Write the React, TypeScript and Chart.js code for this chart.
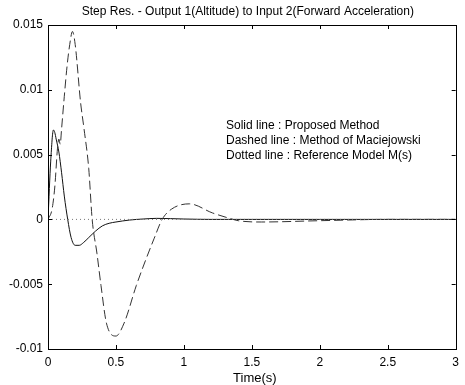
import React, { useEffect, useRef } from "react";
import { Chart, registerables } from "chart.js";
Chart.register(...registerables);

const titleText = "Step Res. - Output 1(Altitude) to Input 2(Forward Acceleration)";
const xTitle = "Time(s)";

const solidT = [0, 0.02, 0.04, 0.05, 0.06, 0.08, 0.1, 0.12, 0.145, 0.17, 0.2, 0.23, 0.26, 0.3, 0.35, 0.4, 0.45, 0.5, 0.6, 0.7, 0.8, 0.9, 1.0, 1.2, 1.5, 2.0, 2.5, 3.0];
const solidY = [0, 0.0045, 0.0069, 0.0067, 0.0062, 0.0052, 0.0036, 0.0018, 0, -0.0014, -0.002, -0.002, -0.0018, -0.0014, -0.0009, -0.0005, -0.0003, -0.0002, -0.00005, 0.00003, 0.00008, 0.00006, 0.00003, 0, 0, 0, 0, 0];

const dashedT = [0, 0.03, 0.05, 0.07, 0.08, 0.09, 0.1, 0.12, 0.14, 0.16, 0.18, 0.2, 0.24, 0.265, 0.3, 0.325, 0.36, 0.39, 0.43, 0.5, 0.56, 0.65, 0.72, 0.78, 0.84, 0.91, 1.04, 1.21, 1.33, 1.4, 1.57, 2.0, 2.5, 3.0];
const dashedY = [0, 0.0008, 0.0025, 0.0055, 0.0062, 0.0058, 0.007, 0.0095, 0.0118, 0.0135, 0.0145, 0.0135, 0.009, 0.007, 0.0039, 0, -0.0026, -0.0051, -0.008, -0.009, -0.008, -0.0051, -0.0031, -0.0015, 0, 0.0008, 0.0012, 0.0005, 0.0001, -0.0001, -0.0002, -0.0001, 0, 0];

const dottedT = [0, 3];
const dottedY = [0, 0];

const xTickValues = [0, 0.5, 1, 1.5, 2, 2.5, 3];
const xTickLabels = ["0", "0.5", "1", "1.5", "2", "2.5", "3"];
const yTickValues = [-0.01, -0.005, 0, 0.005, 0.01, 0.015];
const yTickLabels = ["-0.01", "-0.005", "0", "0.005", "0.01", "0.015"];

const noteLines = ["Solid line : Proposed Method", "Dashed line : Method of Maciejowski", "Dotted line : Reference Model M(s)"];
const noteX = 1.31;
const noteY = 0.0072;

const FONT = "'Liberation Sans', Arial, sans-serif";

const pts = (t: number[], y: number[]) => t.map((v, i) => ({ x: v, y: y[i] }));

const framePlugin = {
  id: "frame",
  afterDatasetsDraw(chart: any) {
    const { ctx, chartArea: a, scales } = chart;
    const xs = scales.x, ys = scales.y;
    ctx.save();
    ctx.strokeStyle = "#000";
    ctx.lineWidth = 1;
    ctx.setLineDash([]);
    ctx.strokeRect(Math.round(a.left) + 0.5, Math.round(a.top) + 0.5, Math.round(a.right - a.left), Math.round(a.bottom - a.top));
    const L = 4;
    ctx.beginPath();
    xTickValues.forEach((v) => {
      const px = Math.round(xs.getPixelForValue(v)) + 0.5;
      ctx.moveTo(px, a.bottom); ctx.lineTo(px, a.bottom - L);
      ctx.moveTo(px, a.top); ctx.lineTo(px, a.top + L);
    });
    yTickValues.forEach((v) => {
      const py = Math.round(ys.getPixelForValue(v)) + 0.5;
      ctx.moveTo(a.left, py); ctx.lineTo(a.left + L, py);
      ctx.moveTo(a.right, py); ctx.lineTo(a.right - L, py);
    });
    ctx.stroke();
    ctx.fillStyle = "#000";
    ctx.font = "12px " + FONT;
    ctx.textAlign = "left";
    ctx.textBaseline = "middle";
    const nx = xs.getPixelForValue(noteX);
    const ny = ys.getPixelForValue(noteY);
    noteLines.forEach((s, i) => ctx.fillText(s, nx, ny + i * 14.8));
    ctx.textAlign = "center";
    ctx.fillText(titleText, (a.left + a.right) / 2 - 4, 12);
    ctx.font = "13px " + FONT;
    ctx.fillText(xTitle, (a.left + a.right) / 2 + 3, a.bottom + 29);
    ctx.restore();
  },
};

export default function App() {
  const ref = useRef<HTMLCanvasElement>(null);
  useEffect(() => {
    document.body.style.margin = "0";
    const chart = new Chart(ref.current!, {
      type: "line",
      data: {
        datasets: [
          { data: pts(dottedT, dottedY), borderColor: "#777", borderWidth: 1, borderDash: [1, 3], pointRadius: 0 },
          { data: pts(dashedT, dashedY), borderColor: "#333", borderWidth: 1, borderDash: [9, 4], pointRadius: 0, cubicInterpolationMode: "monotone" },
          { data: pts(solidT, solidY), borderColor: "#111", borderWidth: 1, pointRadius: 0, cubicInterpolationMode: "monotone" },
        ],
      } as any,
      options: {
        animation: false,
        responsive: false,
        layout: { padding: { left: 0, right: 9, top: 25, bottom: 0 } },
        plugins: {
          legend: { display: false },
          tooltip: { enabled: false },
          title: { display: false },
        },
        scales: {
          x: {
            type: "linear", min: 0, max: 3,
            afterBuildTicks: (s: any) => { s.ticks = xTickValues.map((v) => ({ value: v })); },
            afterFit: (s: any) => { s.height = 36; },
            ticks: { color: "#000", font: { family: FONT, size: 12 }, padding: 6, maxRotation: 0, autoSkip: false, callback: (v: any) => xTickLabels[xTickValues.indexOf(Number(v))] ?? "" },
            grid: { display: false, drawTicks: false },
            border: { display: false },
          },
          y: {
            type: "linear", min: -0.01, max: 0.015,
            afterBuildTicks: (s: any) => { s.ticks = yTickValues.map((v) => ({ value: v })); },
            afterFit: (s: any) => { s.width = 48; },
            ticks: { color: "#000", font: { family: FONT, size: 12 }, padding: 5, autoSkip: false, callback: (v: any) => { const i = yTickValues.findIndex((t) => Math.abs(t - Number(v)) < 1e-9); return i >= 0 ? yTickLabels[i] : ""; } },
            grid: { display: false, drawTicks: false },
            border: { display: false },
          },
        },
      } as any,
      plugins: [framePlugin],
    });
    return () => chart.destroy();
  }, []);
  return <canvas ref={ref} width={465} height={385} style={{ display: "block" }} />;
}
